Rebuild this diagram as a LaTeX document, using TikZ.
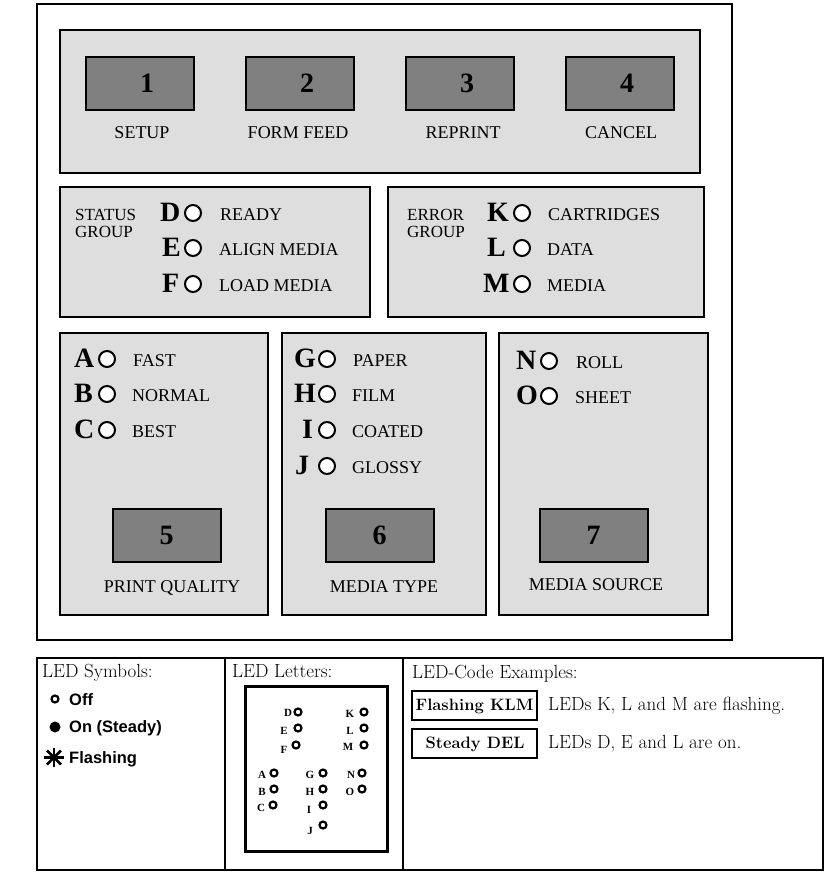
\documentclass[tikz,border=0pt]{standalone}
\usepackage{fontspec}
\newfontfamily\tms{Liberation Serif}
\newfontfamily\ars{Liberation Sans}
\definecolor{panelgray}{HTML}{DEDEDE}
\definecolor{btngray}{HTML}{808080}
\begin{document}
\begin{tikzpicture}[x=1pt,y=-1pt,
  frame/.style={draw=black, line width=2pt},
  panel/.style={draw=black, fill=panelgray, line width=2pt},
  btn/.style={draw=black, fill=btngray, line width=2pt, minimum width=108pt, minimum height=53pt, inner sep=0pt},
  num/.style={font=\tms\bfseries\fontsize{28}{28}\selectfont, inner sep=0pt},
  lbl/.style={font=\tms\fontsize{18}{18}\selectfont, anchor=base, inner sep=0pt},
  lbll/.style={lbl, anchor=base west},
  grp/.style={font=\tms\fontsize{17}{17}\selectfont, anchor=base west, inner sep=0pt},
  big/.style={font=\tms\bfseries\fontsize{28}{28}\selectfont, anchor=base west, inner sep=0pt},
  led/.style={circle, draw=black, fill=white, line width=2pt, minimum size=16pt, inner sep=0pt},
  sled/.style={circle, draw=black, fill=white, line width=2.2pt, minimum size=7pt, inner sep=0pt},
  sletter/.style={font=\tms\bfseries\fontsize{11}{11}\selectfont, inner sep=0pt},
  lm/.style={font=\fontsize{19}{19}\selectfont, anchor=base west, inner sep=0pt},
  lmb/.style={font=\bfseries\fontsize{16.5}{16.5}\selectfont, inner sep=0pt},
  sans/.style={font=\ars\bfseries\fontsize{16.5}{16.5}\selectfont, anchor=base west, inner sep=0pt}
]
\useasboundingbox (0,0) rectangle (839,881);
\fill[white] (0,0) rectangle (839,881);

% outer frame and panels
\draw[frame] (37,4) rectangle (732,640);
\draw[panel] (60,30) rectangle (700,173);
\draw[panel] (60,187) rectangle (370,317);
\draw[panel] (388,187) rectangle (704,317);
\draw[panel] (60,333) rectangle (268,615);
\draw[panel] (282,333) rectangle (486,615);
\draw[panel] (499,333) rectangle (708,615);

% top buttons
\node[btn] (b1) at (140,83.5) {};
\node[btn] (b2) at (300,83.5) {};
\node[btn] (b3) at (460,83.5) {};
\node[btn] (b4) at (620,83.5) {};
\node[num] (n1) at ([xshift=7pt]b1.center) {1};
\node[num] (n2) at ([xshift=7pt]b2.center) {2};
\node[num] (n3) at ([xshift=7pt]b3.center) {3};
\node[num] (n4) at ([xshift=7pt]b4.center) {4};
\node[lbl] (l1) at (142,138) {SETUP};
\node[lbl] (l2) at (298,138) {FORM FEED};
\node[lbl] (l3) at (463,138) {REPRINT};
\node[lbl] (l4) at (621,138) {CANCEL};

% bottom buttons
\node[btn] (b5) at (166.5,535.5) {};
\node[btn] (b6) at (379.5,535.5) {};
\node[btn] (b7) at (593.5,535.5) {};
\node[num] (n5) at (b5.center) {5};
\node[num] (n6) at (b6.center) {6};
\node[num] (n7) at (b7.center) {7};
\node[lbl] (l5) at (172,592) {PRINT QUALITY};
\node[lbl] (l6) at (384,592) {MEDIA TYPE};
\node[lbl] (l7) at (596,590) {MEDIA SOURCE};

% group titles
\node[grp] (st1) at (75,220) {STATUS};
\node[grp] (st2) at (75,237) {GROUP};
\node[grp] (er1) at (407,220) {ERROR};
\node[grp] (er2) at (407,237) {GROUP};

% LEDs: name / letter x / circle x / label x / circle y / label
\foreach \n/\lx/\cx/\tx/\cy/\t in {
  D/160/193/220/213/READY,
  E/162/193/219/248/ALIGN MEDIA,
  F/162/193/219/284/LOAD MEDIA,
  K/487/522/548/213/CARTRIDGES,
  L/487/522/547/248/DATA,
  M/483/522/547/284/MEDIA,
  A/74/107/133/359/FAST,
  B/74/107/132/394/NORMAL,
  C/74/107/132/430/BEST,
  G/294/327/353/359/PAPER,
  H/294/327/352/394/FILM,
  I/302/327/352/430/COATED,
  J/295/327/352/466/GLOSSY,
  N/516/549/576/361/ROLL,
  O/516/549/575/396/SHEET}{
  \node[big] (let\n) at (\lx,\cy+8) {\n};
  \node[led] (led\n) at (\cx,\cy) {};
  \node[lbll] (txt\n) at (\tx,\cy+7.5) {\t};
}

% legend frame
\draw[line width=2.5pt] (37,658) rectangle (823,870);
\draw[line width=2.5pt] (225,658) -- (225,870);
\draw[line width=2.5pt] (403,658) -- (403,870);

% LED Symbols
\node[lm] (symt) at (42,677) {LED Symbols:};
\node[sled] (soff) at (55,699) {};
\node[sans] (toff) at (69,705) {Off};
\node[circle, fill=black, minimum size=11pt, inner sep=0pt] (son) at (55,727) {};
\node[sans] (ton) at (69,732) {On (Steady)};
\coordinate (sfl) at (54,757.5);
\draw[line width=2.8pt] ([xshift=-10pt]sfl) -- ([xshift=10pt]sfl);
\draw[line width=2.8pt] ([yshift=-9.5pt]sfl) -- ([yshift=9.5pt]sfl);
\draw[line width=2.8pt] ([xshift=-7pt,yshift=-7pt]sfl) -- ([xshift=7pt,yshift=7pt]sfl);
\draw[line width=2.8pt] ([xshift=-7pt,yshift=7pt]sfl) -- ([xshift=7pt,yshift=-7pt]sfl);
\node[sans] (tfl) at (69,763) {Flashing};

% LED Letters
\node[lm] (lett) at (232,677) {LED Letters:};
\draw[line width=3pt] (245,686) rectangle (387,851);
\foreach \n/\cx/\cy/\lx/\ly in {
  D/298/712/288/713,
  E/298/728/284/731,
  F/296/745/284/750,
  K/364/712/350/714,
  L/364/728/350/731,
  M/364/745/348/747,
  A/274/773/262/775,
  B/274/789/262/792,
  C/273/805/261/808,
  G/323/773/310/775,
  H/323/789/310/792,
  I/323/805/309/810,
  J/323/825/310/831,
  N/362/773/351/775,
  O/362/789/350/792}{
  \node[sled] (s\n) at (\cx,\cy) {};
  \node[sletter] (sl\n) at (\lx,\ly) {\n};
}

% LED-Code Examples
\node[lm] (codet) at (412,678) {LED-Code Examples:};
\draw[line width=1.6pt] (412,691) rectangle (537,720);
\draw[line width=1.6pt] (412,729) rectangle (537,758);
\node[lmb, anchor=base] (ex1) at (474.5,710) {Flashing KLM};
\node[lmb, anchor=base] (ex2) at (475,748) {Steady DEL};
\node[lm] (ex1t) at (548,710) {LEDs K, L and M are flashing.};
\node[lm] (ex2t) at (548,748) {LEDs D, E and L are on.};
\end{tikzpicture}
\end{document}
